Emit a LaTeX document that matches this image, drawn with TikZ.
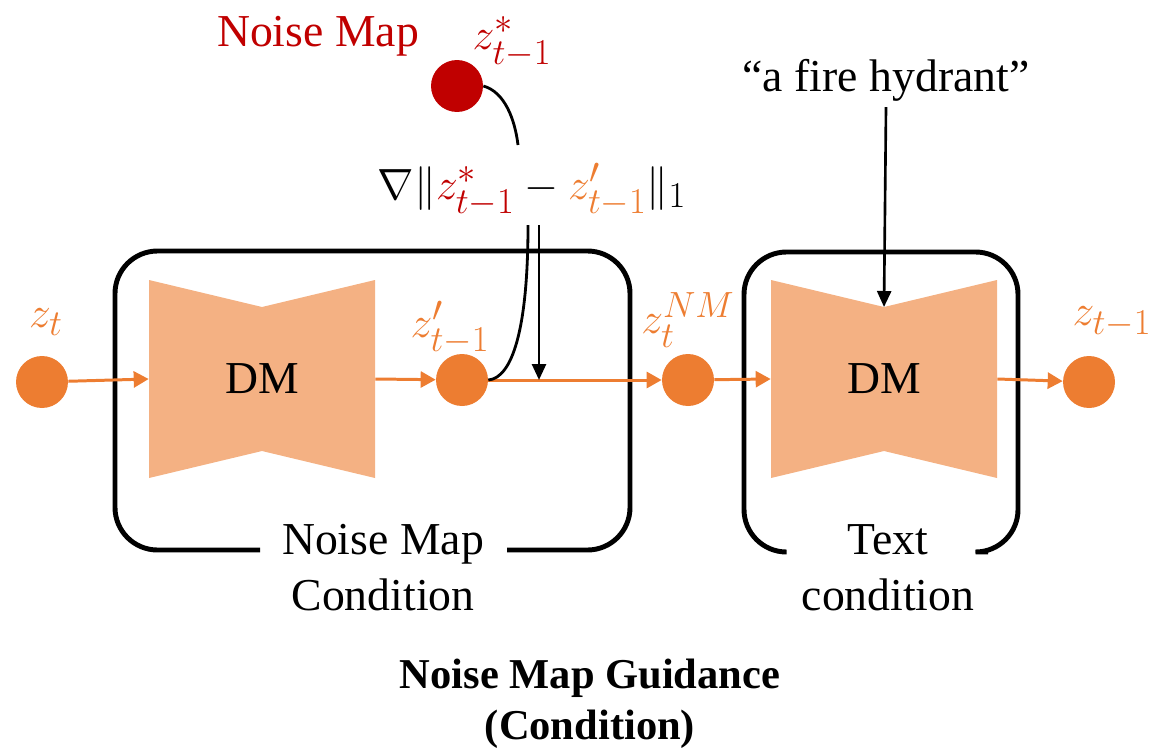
\documentclass[tikz,border=0pt]{standalone}
\usepackage{fontspec}
\setmainfont{Liberation Serif}
\usepackage{amsmath}
\usepackage{tikz}
\usetikzlibrary{calc,arrows.meta}
\definecolor{nmorange}{HTML}{ED7D31}
\definecolor{nmpeach}{HTML}{F4B183}
\definecolor{nmred}{HTML}{C00000}
\tikzset{
  every node/.style={font=\fontsize{26}{32}\selectfont},
  dot/.style={circle,fill=nmorange,minimum size=1.04cm,inner sep=0pt},
  reddot/.style={circle,fill=nmred,minimum size=1.04cm,inner sep=0pt},
  dmbox/.style={minimum width=4.52cm,minimum height=3.96cm,inner sep=0pt},
  flow/.style={nmorange,line width=1.7pt,-{Triangle[length=0.3cm,width=0.32cm]}},
  guide/.style={black,line width=1.5pt,-{Triangle[length=0.32cm,width=0.28cm]}},
  cond/.style={line width=2.8pt,rounded corners=0.85cm},
  lbl/.style={text=nmorange,inner sep=1pt,font=\fontsize{30}{36}\selectfont}
}

\begin{document}
\begin{tikzpicture}[x=0.02cm,y=-0.02cm]
      \useasboundingbox (0,0) rectangle (1155,747);
      \fill[nmpeach] (149,280) -- (262,307) -- (375,280) -- (375,478) -- (262,451) -- (149,478) -- cycle;
      \fill[nmpeach] (771,280) -- (884,307) -- (997,280) -- (997,478) -- (884,451) -- (771,478) -- cycle;
      \node[dmbox] (dmA) at (262,379) {DM};
      \node[dmbox] (dmB) at (884,379) {DM};
      \draw[cond] (260,550) -- (115,550) -- (115,251) -- (630,251) -- (630,550) -- (507,550);
      \draw[cond] (782,552) -- (744,552) -- (744,252) -- (1018,252) -- (1018,552) -- (988,552);
      \node (cndA) at (383,571) {\begin{tabular}{@{}c@{}}Noise Map\\Condition\end{tabular}};
      \node (cndB) at (888,571) {\begin{tabular}{@{}c@{}}Text\\condition\end{tabular}};
      \node[dot] (zt) at (42,382) {};
      \node[dot] (zp) at (462,380) {};
      \node[dot] (znm) at (688,380) {};
      \node[dot] (zout) at (1089,382) {};
      \node[reddot] (nm) at (457,86) {};
      \node[lbl] (ztlbl) at (46,322) {$z_t$};
      \node[lbl] (zplbl) at (450,328) {$z'_{t-1}$};
      \node[lbl] (znmlbl) at (688,320) {$z_t^{NM}$};
      \node[lbl] (zoutlbl) at (1112,322) {$z_{t-1}$};
      \node[text=nmred] (nmlbl) at (318,36) {Noise Map};
      \node[lbl,text=nmred] (nmz) at (512,42) {$z^*_{t-1}$};
      \node[font=\fontsize{28}{34}\selectfont] (grad) at (532,190) {$\nabla\lVert\textcolor{nmred}{z^*_{t-1}}-\textcolor{nmorange}{z'_{t-1}}\rVert_1$};
      \node (txt) at (886,80) {``a fire hydrant''};
      \node[font=\bfseries\fontsize{24.2}{29}\selectfont] (title) at (590,704) {\begin{tabular}{@{}c@{}}Noise Map Guidance\\(Condition)\end{tabular}};
      \coordinate (gtop) at (518,145);
      \coordinate (gbot) at (528,225);
      \coordinate (gmid) at (539,225);
      \coordinate (merge) at (539,380);
      \coordinate (notch) at (884,307);
      \draw[flow] (zt) -- (dmA.west);
      \draw[flow] (dmA.east) -- (zp);
      \draw[flow] (zp) -- (znm);
      \draw[flow] (znm) -- (dmB.west);
      \draw[flow] (dmB.east) -- (zout);
      \draw[line width=1.6pt] (nm.east) .. controls (505,92) and (515,120) .. (gtop);
      \draw[line width=1.6pt] (gbot) .. controls (528,330) and (512,378) .. (zp.east);
      \draw[guide] (gmid) -- (merge);
      \draw[guide] (txt.south) -- (notch);
\end{tikzpicture}
\end{document}
